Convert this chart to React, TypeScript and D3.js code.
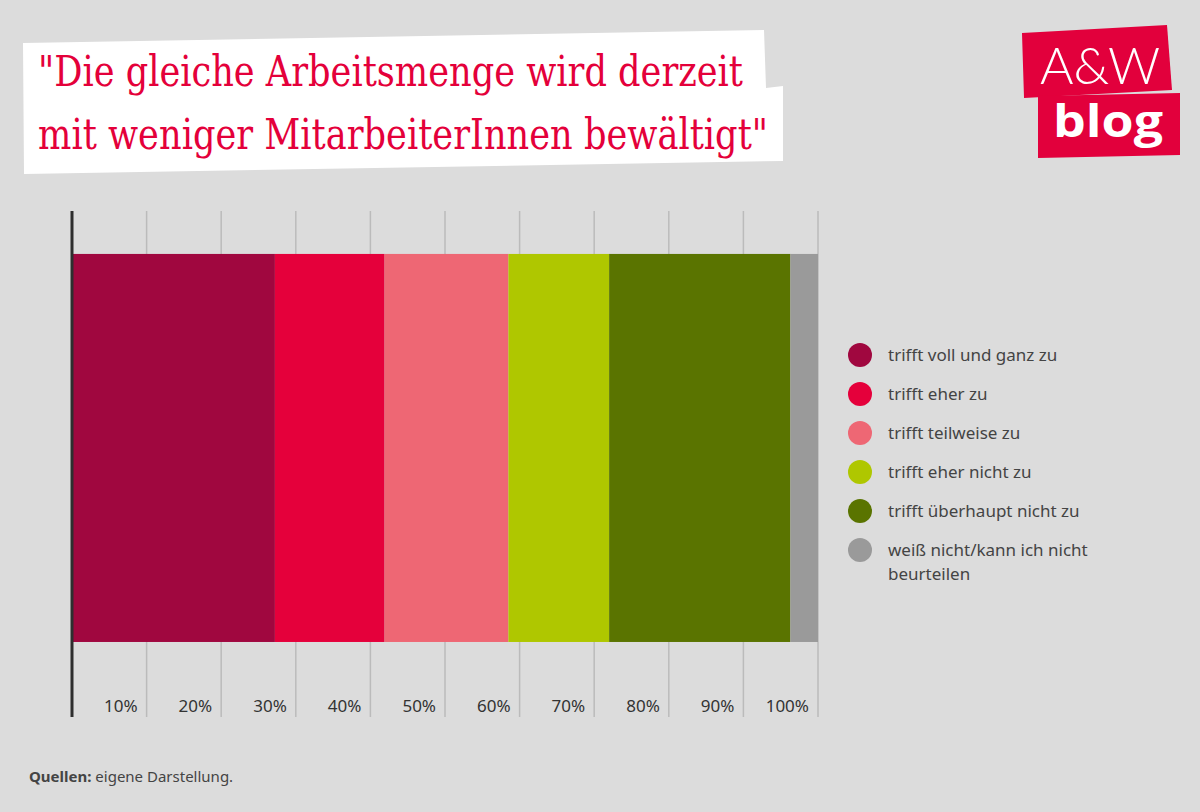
import React from "react";
import * as d3 from "d3";

const categories = [
  "trifft voll und ganz zu",
  "trifft eher zu",
  "trifft teilweise zu",
  "trifft eher nicht zu",
  "trifft überhaupt nicht zu",
  "weiß nicht/kann ich nicht beurteilen",
];
const legendLines = [
  ["trifft voll und ganz zu"],
  ["trifft eher zu"],
  ["trifft teilweise zu"],
  ["trifft eher nicht zu"],
  ["trifft überhaupt nicht zu"],
  ["weiß nicht/kann ich nicht", "beurteilen"],
];
const values = [27.2, 14.7, 16.6, 13.5, 24.3, 3.7];
const colors = ["#A0073F", "#E5003B", "#EE6774", "#AFC700", "#5A7400", "#9A9A9A"];
const tickValues = [10, 20, 30, 40, 50, 60, 70, 80, 90, 100];
const titleLines = [
  "\"Die gleiche Arbeitsmenge wird derzeit",
  "mit weniger MitarbeiterInnen bewältigt\"",
];

const W = 1200;
const H = 812;

export default function App() {
  const x = d3.scaleLinear().domain([0, 100]).range([72, 818]);
  const y = d3.scaleBand().domain(["q"]).range([211, 717]).paddingOuter(0.152).paddingInner(0).align(0.364);
  const stacked = d3.cumsum(values);
  const segs = values.map((v, i) => ({ v, start: stacked[i] - v, end: stacked[i], color: colors[i], cat: categories[i] }));
  const legendY = d3.scalePoint().domain(categories).range([355, 550]);
  const sans = "'Noto Sans', 'Open Sans', sans-serif";

  return (
    <svg width={W} height={H} style={{ position: "absolute", left: 0, top: 0 }} xmlns="http://www.w3.org/2000/svg">
      <rect x={0} y={0} width={W} height={H} fill="#DCDCDC" />

      {/* title box */}
      <polygon points="23,43 764,30 766,88 783,86 783,161 24,174" fill="#FFFFFF" />
      <text x={38} y={86} fill="#E4003A" fontFamily="'DejaVu Serif', serif" fontSize={43} textLength={705} lengthAdjust="spacingAndGlyphs">
        {titleLines[0]}
      </text>
      <text x={38} y={149} fill="#E4003A" fontFamily="'DejaVu Serif', serif" fontSize={43} textLength={730} lengthAdjust="spacingAndGlyphs">
        {titleLines[1]}
      </text>

      {/* logo */}
      <polygon points="1022,33 1167,25 1172,90 1024,98" fill="#E2003C" />
      <polygon points="1038,96 1180,93 1180,155 1038,158" fill="#E2003C" />
      <text x={1040} y={84} fill="#FFFFFF" fontFamily="Lato, 'Open Sans', sans-serif" fontWeight={300} fontSize={52} textLength={120} lengthAdjust="spacingAndGlyphs">
        A&amp;W
      </text>
      <text x={1053} y={137} fill="#FFFFFF" fontFamily="'Open Sans', Lato, sans-serif" fontWeight={700} fontSize={44} textLength={110} lengthAdjust="spacingAndGlyphs">
        blog
      </text>

      {/* gridlines */}
      {tickValues.map((t) => (
        <line key={t} x1={x(t)} x2={x(t)} y1={211} y2={717} stroke="#BBBBBB" strokeWidth={1.5} />
      ))}

      {/* bars */}
      {segs.map((s) => (
        <rect key={s.cat} x={x(s.start)} y={y("q")} width={x(s.end) - x(s.start)} height={y.bandwidth()} fill={s.color} />
      ))}

      {/* axis line */}
      <line x1={x(0)} x2={x(0)} y1={211} y2={717} stroke="#2E2E2E" strokeWidth={3} />

      {/* tick labels */}
      {tickValues.map((t) => (
        <text key={t} x={x(t) - 9} y={712} textAnchor="end" fill="#333333" fontFamily={sans} fontSize={17}>
          {t}%
        </text>
      ))}

      {/* legend */}
      {categories.map((c, i) => (
        <g key={c} transform={`translate(0,${legendY(c)})`}>
          <circle cx={860} cy={0} r={12} fill={colors[i]} />
          {legendLines[i].map((ln, j) => (
            <text key={j} x={888} y={6 + j * 24} fill="#444444" fontFamily={sans} fontSize={17}>
              {ln}
            </text>
          ))}
        </g>
      ))}

      {/* source */}
      <text x={29} y={782} fill="#444444" fontFamily={sans} fontSize={15}>
        <tspan fontWeight={700}>Quellen:</tspan>
        <tspan> eigene Darstellung.</tspan>
      </text>
    </svg>
  );
}
